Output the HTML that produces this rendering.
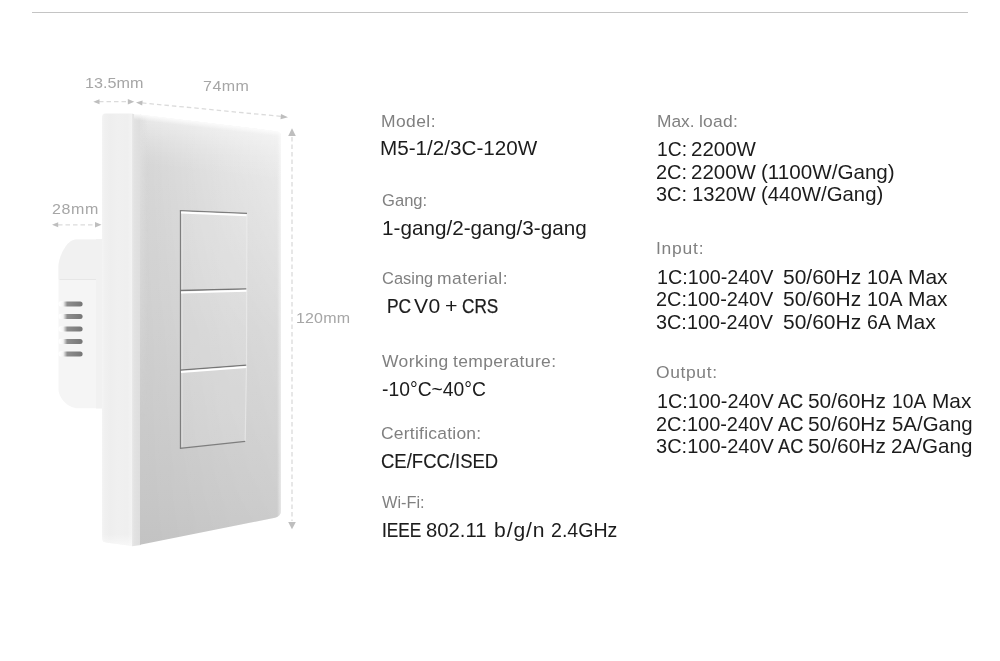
<!DOCTYPE html>
<html lang="en">
<head>
<meta charset="utf-8">
<title>Specifications</title>
<style>
html,body{margin:0;padding:0;background:#fff}
body{width:1000px;height:661px;position:relative;overflow:hidden;font-family:"Liberation Sans",sans-serif}
.rule{position:absolute;left:32px;top:12px;width:936px;height:1px;background:#c4c4c4}
.art{position:absolute;left:0;top:0;width:1000px;height:661px}
.t{position:absolute;white-space:pre;line-height:1;margin:0;padding:0;transform-origin:0 0}
.l{color:#808080}.v{color:#1c1c1c}.d{color:#a6a6a6}
</style>
</head>
<body>
<div class="rule"></div>
<svg class="art" width="1000" height="661" viewBox="0 0 1000 661">
<defs>
 <linearGradient id="gFrontV" gradientUnits="userSpaceOnUse" x1="0" y1="114" x2="0" y2="546">
  <stop offset="0" stop-color="#dcdcdc"/><stop offset="0.1" stop-color="#d6d6d6"/><stop offset="0.5" stop-color="#cfcfcf"/><stop offset="0.87" stop-color="#c7c7c7"/><stop offset="1" stop-color="#c3c3c3"/>
 </linearGradient>
 <linearGradient id="gFrontH" gradientUnits="userSpaceOnUse" x1="140" y1="0" x2="281" y2="0">
  <stop offset="0" stop-color="#fff" stop-opacity="0"/><stop offset="0.2" stop-color="#fff" stop-opacity="0.1"/><stop offset="0.6" stop-color="#fff" stop-opacity="0.33"/><stop offset="1" stop-color="#fff" stop-opacity="0.5"/>
 </linearGradient>
 <linearGradient id="gMaskV" gradientUnits="userSpaceOnUse" x1="0" y1="114" x2="0" y2="546">
  <stop offset="0" stop-color="#fff"/><stop offset="0.12" stop-color="#f0f0f0"/><stop offset="0.5" stop-color="#777"/><stop offset="1" stop-color="#383838"/>
 </linearGradient>
 <mask id="mFront" maskUnits="userSpaceOnUse" x="130" y="110" width="160" height="440"><rect x="130" y="110" width="160" height="440" fill="url(#gMaskV)"/></mask>
 <linearGradient id="gTopHi" gradientUnits="userSpaceOnUse" x1="0" y1="0" x2="-0.7" y2="6">
  <stop offset="0" stop-color="#fff" stop-opacity="0.85"/><stop offset="0.4" stop-color="#fff" stop-opacity="0.5"/><stop offset="1" stop-color="#fff" stop-opacity="0"/>
 </linearGradient>
 <linearGradient id="gTopFade" gradientUnits="userSpaceOnUse" x1="210" y1="122" x2="204" y2="172">
  <stop offset="0" stop-color="#fff" stop-opacity="0.42"/><stop offset="0.5" stop-color="#fff" stop-opacity="0.16"/><stop offset="1" stop-color="#fff" stop-opacity="0"/>
 </linearGradient>
 <linearGradient id="gSoftL" gradientUnits="userSpaceOnUse" x1="140" y1="0" x2="148" y2="0">
  <stop offset="0" stop-color="#dfdfdf" stop-opacity="0.95"/><stop offset="1" stop-color="#dfdfdf" stop-opacity="0"/>
 </linearGradient>
 <linearGradient id="gSoftM" gradientUnits="userSpaceOnUse" x1="0" y1="114" x2="0" y2="420">
  <stop offset="0" stop-color="#fff"/><stop offset="0.35" stop-color="#999"/><stop offset="1" stop-color="#000"/>
 </linearGradient>
 <mask id="mSoft" maskUnits="userSpaceOnUse" x="138" y="110" width="14" height="320"><rect x="138" y="110" width="14" height="320" fill="url(#gSoftM)"/></mask>
 <linearGradient id="gSideBot" gradientUnits="userSpaceOnUse" x1="0" y1="534" x2="0" y2="546">
  <stop offset="0" stop-color="#fff" stop-opacity="0"/><stop offset="1" stop-color="#fff" stop-opacity="0.55"/>
 </linearGradient>
 <linearGradient id="gBevel" gradientUnits="userSpaceOnUse" x1="132" y1="0" x2="141" y2="0">
  <stop offset="0" stop-color="#e9e9e9"/><stop offset="0.25" stop-color="#e2e2e2"/><stop offset="1" stop-color="#dddddd"/>
 </linearGradient>
 <linearGradient id="gSide" gradientUnits="userSpaceOnUse" x1="102" y1="0" x2="132" y2="0">
  <stop offset="0" stop-color="#f4f4f4"/><stop offset="0.1" stop-color="#f0f0f0"/><stop offset="0.3" stop-color="#eeeeee"/><stop offset="0.5" stop-color="#f0f0f0"/><stop offset="0.85" stop-color="#efefef"/><stop offset="1" stop-color="#f3f3f3"/>
 </linearGradient>
 <linearGradient id="gVent" x1="0" y1="0" x2="1" y2="0">
  <stop offset="0" stop-color="#8a8a8a" stop-opacity="0"/><stop offset="0.14" stop-color="#8a8a8a" stop-opacity="0.08"/><stop offset="0.32" stop-color="#888888" stop-opacity="0.95"/><stop offset="1" stop-color="#767676"/>
 </linearGradient>
 <linearGradient id="gRightFade" gradientUnits="userSpaceOnUse" x1="277" y1="0" x2="281.5" y2="0">
  <stop offset="0" stop-color="#fff" stop-opacity="0"/><stop offset="1" stop-color="#fff" stop-opacity="0.6"/>
 </linearGradient>
</defs>
<!-- back box -->
<path d="M103 239.4 H76 C66 239.6 58.8 258 58.5 266 V390 C58.8 395 64 406 76 408.2 H103 Z" fill="#f5f5f5"/>
<path d="M103 239.4 H76 C66 239.6 58.8 258 58.5 266 V279.5 H103 Z" fill="#f1f1f1"/>
<path d="M59.5 279.5 H103" stroke="#e6e6e6" stroke-width="1"/>
<rect x="96" y="239" width="7" height="169.5" fill="#f1f1f1"/>
<!-- vents -->
<g fill="#ffffff" fill-opacity="0.85">
 <rect x="58.5" y="301.2" width="8" height="5.4" rx="2"/>
 <rect x="58.5" y="313.7" width="8" height="5.4" rx="2"/>
 <rect x="58.5" y="326.3" width="8" height="5.4" rx="2"/>
 <rect x="58.5" y="338.7" width="8" height="5.4" rx="2"/>
 <rect x="58.5" y="351.2" width="8" height="5.4" rx="2"/>
</g>
<g>
 <rect x="60" y="301.4" width="22.6" height="5" rx="2.5" fill="url(#gVent)"/>
 <rect x="60" y="313.9" width="22.6" height="5" rx="2.5" fill="url(#gVent)"/>
 <rect x="60" y="326.5" width="22.6" height="5" rx="2.5" fill="url(#gVent)"/>
 <rect x="60" y="338.9" width="22.6" height="5" rx="2.5" fill="url(#gVent)"/>
 <rect x="60" y="351.4" width="22.6" height="5" rx="2.5" fill="url(#gVent)"/>
</g>
<!-- side -->
<path d="M105.5 113.6 H132.5 V546 L106 542.6 Q102 542 102 538 V117.4 Q102 113.6 105.5 113.6 Z" fill="url(#gSide)"/>
<path d="M102 534 H132.5 V546 L106 542.6 Q102 542 102 538 Z" fill="url(#gSideBot)"/>
<!-- bevel -->
<path d="M132 113.8 L141 115 V545 L132 546.2 Z" fill="url(#gBevel)"/>
<!-- front -->
<path d="M140 114.8 L277 131.4 Q281 132 281 136 V510 Q281 516.5 275 517.8 L140 544.8 Z" fill="url(#gFrontV)"/>
<path d="M140 114.8 L277 131.4 Q281 132 281 136 V510 Q281 516.5 275 517.8 L140 544.8 Z" fill="url(#gFrontH)" mask="url(#mFront)"/>
<path d="M277 131.4 Q281 132 281 136 V510 Q281 516.5 275 517.8 Z" fill="url(#gRightFade)"/>
<path d="M140 114.8 L277 131.4 Q281 132 281 136 V190 H140 Z" fill="url(#gTopFade)"/>
<path d="M140 114.8 L148 115.8 V420 H140 Z" fill="url(#gSoftL)" mask="url(#mSoft)"/>
<!-- front top highlight -->
<g transform="translate(132 113.4)"><path d="M2 0.3 L149 18.1 L149 24.1 L2 6.3 Z" fill="url(#gTopHi)"/></g>
<!-- buttons -->
<g fill="none">
 <path d="M180 210.3 L246.9 213 L246.5 289 L246.5 365 L245 441.2 L180 448.2 Z" fill="#ffffff" fill-opacity="0.11" stroke="none"/>
 <path d="M180.5 448.4 V210.3" stroke="#7e7e7e" stroke-width="1.3"/>
 <path d="M181.9 447 V212" stroke="#ffffff" stroke-opacity="0.35" stroke-width="1.2"/>
 <path d="M179.9 210.6 L247 213.3" stroke="#7e7e7e" stroke-width="1.3"/>
 <path d="M181 212.5 L246.8 215.2" stroke="#ffffff" stroke-width="2"/>
 <path d="M180 290.5 L246.6 288.9" stroke="#767676" stroke-width="1.3"/>
 <path d="M181 292.4 L246.6 290.8" stroke="#ffffff" stroke-width="2"/>
 <path d="M180 370.1 L246.6 365.1" stroke="#767676" stroke-width="1.3"/>
 <path d="M181 372 L246.6 367" stroke="#ffffff" stroke-width="2"/>
 <path d="M179.9 448.4 L245.2 441.4" stroke="#7e7e7e" stroke-width="1.4"/>
 <path d="M246.9 214 L246.5 365 L245.2 441" stroke="#f0f0f0" stroke-opacity="0.6" stroke-width="1.2"/>
</g>
<!-- dimension arrows -->
<g stroke="#dbdbdb" stroke-width="1.3" stroke-dasharray="4.5 3" fill="none">
 <path d="M99 101.7 H129"/>
 <path d="M142 102.9 L281 116.4"/>
 <path d="M58 224.8 H95"/>
 <path d="M292 137 V521"/>
</g>
<g fill="#bebebe">
 <path d="M93.3 101.7 L99.5 99.2 V104.2 Z"/>
 <path d="M134.3 101.7 L127.8 99 V104.4 Z"/>
 <path d="M136 102.4 L142.6 100.4 L142.2 105.6 Z"/>
 <path d="M288 117.2 L281 114 L280.5 119.2 Z"/>
 <path d="M52 224.8 L58.2 222.3 V227.3 Z"/>
 <path d="M101.5 224.8 L95 222 V227.6 Z"/>
 <path d="M292 128.3 L295.8 136 H288.2 Z"/>
 <path d="M292 529.2 L295.8 522 H288.2 Z"/>
</g>
</svg>

<div class="t l" style="left:380.66px;top:114.00px;font-size:16.8px;letter-spacing:0.403px;transform:scaleX(1.0400)">Model:</div>
<div class="t v" style="left:380.09px;top:138.00px;font-size:20.3px;transform:scaleX(1.0181)">M5-1/2/3C-120W</div>
<div class="t l" style="left:381.88px;top:193.00px;font-size:16.8px;transform:scaleX(0.9884)">Gang:</div>
<div class="t v" style="left:381.98px;top:218.00px;font-size:20.3px;transform:scaleX(1.0197)">1-gang/2-gang/3-gang</div>
<div class="t l" style="left:381.88px;top:270.70px;font-size:16.8px;transform:scaleX(0.9801)">Casing</div>
<div class="t l" style="left:437.20px;top:270.70px;font-size:16.8px;letter-spacing:0.431px;transform:scaleX(1.0400)">material:</div>
<div class="t v" style="left:386.76px;top:295.70px;font-size:20.3px;-webkit-text-stroke:0.23px currentColor;transform:scaleX(0.8567)">PC</div>
<div class="t v" style="left:414.14px;top:295.70px;font-size:20.3px;letter-spacing:0.300px;transform:scaleX(1.0400)">V0</div>
<div class="t v" style="left:445.05px;top:295.70px;font-size:20.3px;transform:scaleX(1.0561)">+</div>
<div class="t v" style="left:461.79px;top:295.70px;font-size:20.3px;-webkit-text-stroke:0.25px currentColor;transform:scaleX(0.8461)">CRS</div>
<div class="t l" style="left:381.96px;top:354.00px;font-size:16.8px;letter-spacing:0.417px;transform:scaleX(1.0400)">Working</div>
<div class="t l" style="left:452.79px;top:354.00px;font-size:16.8px;letter-spacing:0.356px;transform:scaleX(1.0400)">temperature:</div>
<div class="t v" style="left:382.48px;top:379.00px;font-size:20.3px;transform:scaleX(0.9520)">-10°C~40°C</div>
<div class="t l" style="left:381.47px;top:425.70px;font-size:16.8px;letter-spacing:0.231px;transform:scaleX(1.0400)">Certification:</div>
<div class="t v" style="left:381.38px;top:451.00px;font-size:20.3px;-webkit-text-stroke:0.14px currentColor;transform:scaleX(0.9121)">CE/FCC/ISED</div>
<div class="t l" style="left:382.28px;top:495.00px;font-size:16.8px;transform:scaleX(0.9737)">Wi-Fi:</div>
<div class="t v" style="left:382.45px;top:520.00px;font-size:20.3px;-webkit-text-stroke:0.24px currentColor;transform:scaleX(0.8476)">IEEE</div>
<div class="t v" style="left:426.34px;top:520.00px;font-size:20.3px;transform:scaleX(0.9990)">802.11</div>
<div class="t v" style="left:494.05px;top:520.00px;font-size:20.3px;letter-spacing:0.860px;transform:scaleX(1.0400)">b/g/n</div>
<div class="t v" style="left:550.72px;top:520.00px;font-size:20.3px;transform:scaleX(0.9649)">2.4GHz</div>
<div class="t l" style="left:657.01px;top:114.00px;font-size:16.8px;transform:scaleX(1.0337)">Max.</div>
<div class="t l" style="left:699.23px;top:114.00px;font-size:16.8px;letter-spacing:0.220px;transform:scaleX(1.0400)">load:</div>
<div class="t v" style="left:657.22px;top:139.20px;font-size:20.3px;transform:scaleX(0.9501)">1C:</div>
<div class="t v" style="left:690.64px;top:139.20px;font-size:20.3px;transform:scaleX(1.0104)">2200W</div>
<div class="t v" style="left:656.28px;top:162.00px;font-size:20.3px;transform:scaleX(0.9831)">2C:</div>
<div class="t v" style="left:690.64px;top:162.00px;font-size:20.3px;transform:scaleX(1.0104)">2200W</div>
<div class="t v" style="left:760.85px;top:162.00px;font-size:20.3px;transform:scaleX(1.0165)">(1100W/Gang)</div>
<div class="t v" style="left:655.95px;top:184.00px;font-size:20.3px;transform:scaleX(0.9806)">3C:</div>
<div class="t v" style="left:691.83px;top:184.00px;font-size:20.3px;transform:scaleX(0.9941)">1320W</div>
<div class="t v" style="left:761.08px;top:184.00px;font-size:20.3px;transform:scaleX(1.0043)">(440W/Gang)</div>
<div class="t l" style="left:655.75px;top:241.40px;font-size:16.8px;letter-spacing:0.740px;transform:scaleX(1.0400)">Input:</div>
<div class="t v" style="left:657.23px;top:267.20px;font-size:20.3px;transform:scaleX(0.9730)">1C:100-240V</div>
<div class="t v" style="left:783.27px;top:267.20px;font-size:20.3px;transform:scaleX(1.0348)">50/60Hz</div>
<div class="t v" style="left:866.93px;top:267.20px;font-size:20.3px;transform:scaleX(0.9809)">10A</div>
<div class="t v" style="left:908.13px;top:267.20px;font-size:20.3px;transform:scaleX(1.0331)">Max</div>
<div class="t v" style="left:656.00px;top:289.20px;font-size:20.3px;transform:scaleX(0.9807)">2C:100-240V</div>
<div class="t v" style="left:783.27px;top:289.20px;font-size:20.3px;transform:scaleX(1.0348)">50/60Hz</div>
<div class="t v" style="left:866.93px;top:289.20px;font-size:20.3px;transform:scaleX(0.9809)">10A</div>
<div class="t v" style="left:908.13px;top:289.20px;font-size:20.3px;transform:scaleX(1.0331)">Max</div>
<div class="t v" style="left:655.95px;top:311.60px;font-size:20.3px;transform:scaleX(0.9784)">3C:100-240V</div>
<div class="t v" style="left:783.27px;top:311.60px;font-size:20.3px;transform:scaleX(1.0348)">50/60Hz</div>
<div class="t v" style="left:867.18px;top:311.60px;font-size:20.3px;transform:scaleX(0.9653)">6A</div>
<div class="t v" style="left:896.49px;top:311.60px;font-size:20.3px;transform:scaleX(1.0393)">Max</div>
<div class="t l" style="left:655.82px;top:365.10px;font-size:16.8px;letter-spacing:0.605px;transform:scaleX(1.0400)">Output:</div>
<div class="t v" style="left:657.03px;top:391.40px;font-size:20.3px;transform:scaleX(0.9766)">1C:100-240V</div>
<div class="t v" style="left:778.30px;top:391.40px;font-size:20.3px;-webkit-text-stroke:0.17px currentColor;transform:scaleX(0.8922)">AC</div>
<div class="t v" style="left:808.30px;top:391.40px;font-size:20.3px;transform:scaleX(1.0304)">50/60Hz</div>
<div class="t v" style="left:892.25px;top:391.40px;font-size:20.3px;transform:scaleX(0.9492)">10A</div>
<div class="t v" style="left:932.35px;top:391.40px;font-size:20.3px;transform:scaleX(1.0262)">Max</div>
<div class="t v" style="left:656.31px;top:413.50px;font-size:20.3px;transform:scaleX(0.9820)">2C:100-240V</div>
<div class="t v" style="left:777.61px;top:413.50px;font-size:20.3px;-webkit-text-stroke:0.16px currentColor;transform:scaleX(0.8976)">AC</div>
<div class="t v" style="left:808.30px;top:413.50px;font-size:20.3px;transform:scaleX(1.0304)">50/60Hz</div>
<div class="t v" style="left:891.95px;top:413.50px;font-size:20.3px;transform:scaleX(1.0068)">5A/Gang</div>
<div class="t v" style="left:656.21px;top:435.90px;font-size:20.3px;transform:scaleX(0.9867)">3C:100-240V</div>
<div class="t v" style="left:777.61px;top:435.90px;font-size:20.3px;-webkit-text-stroke:0.16px currentColor;transform:scaleX(0.8976)">AC</div>
<div class="t v" style="left:808.30px;top:435.90px;font-size:20.3px;transform:scaleX(1.0304)">50/60Hz</div>
<div class="t v" style="left:890.98px;top:435.90px;font-size:20.3px;transform:scaleX(1.0161)">2A/Gang</div>
<div class="t d" style="left:84.80px;top:74.80px;font-size:15.4px;transform:scaleX(1.0491)">13.5mm</div>
<div class="t d" style="left:202.86px;top:78.40px;font-size:15.4px;letter-spacing:0.471px;transform:scaleX(1.0400)">74mm</div>
<div class="t d" style="left:52.20px;top:201.00px;font-size:15.4px;letter-spacing:0.565px;transform:scaleX(1.0400)">28mm</div>
<div class="t d" style="left:295.93px;top:309.50px;font-size:15.4px;letter-spacing:0.141px;transform:scaleX(1.0400)">120mm</div>
</body>
</html>
